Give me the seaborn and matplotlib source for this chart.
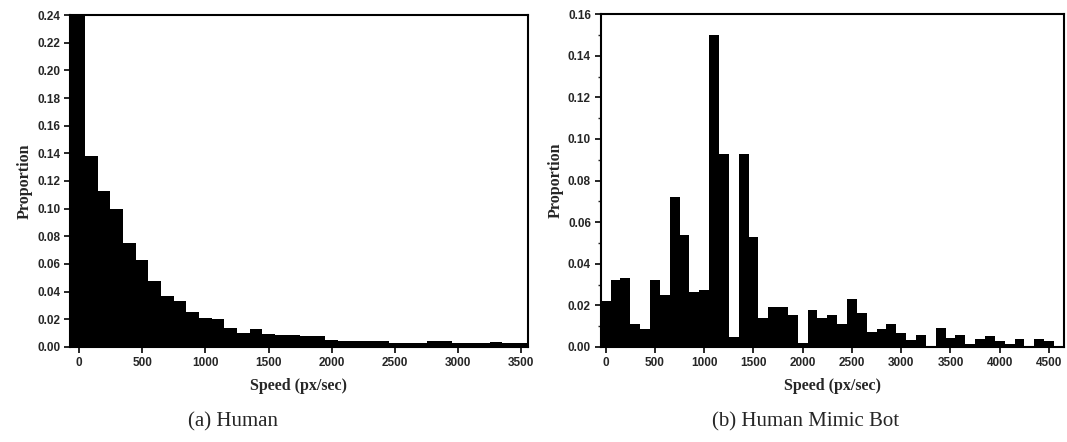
import pandas as pd
import matplotlib
matplotlib.use("Agg")
import matplotlib.pyplot as plt
from matplotlib.ticker import MultipleLocator
import seaborn as sns

# Speed histograms, bin width 100 px/sec, bins centred on multiples of 100

human_centers = list(range(0, 3600, 100))
human_props = [0.25, 0.138, 0.113, 0.100, 0.075, 0.063, 0.048, 0.037, 0.033, 0.025,
               0.021, 0.020, 0.0135, 0.010, 0.013, 0.0095, 0.0088, 0.009, 0.008, 0.008,
               0.0053, 0.004, 0.004, 0.004, 0.004, 0.003, 0.003, 0.003, 0.004, 0.004,
               0.003, 0.003, 0.003, 0.0037, 0.0027, 0.0027]

bot_centers = list(range(0, 4600, 100))
bot_props = [0.022, 0.032, 0.033, 0.011, 0.0088, 0.032, 0.025, 0.072, 0.054, 0.0265,
             0.0276, 0.150, 0.093, 0.0048, 0.093, 0.053, 0.014, 0.019, 0.019, 0.0156,
             0.0017, 0.0177, 0.0138, 0.0152, 0.0112, 0.0229, 0.0165, 0.0072, 0.0085, 0.0109,
             0.0066, 0.0032, 0.0056, 0.0005, 0.0093, 0.0045, 0.0056, 0.0016, 0.004, 0.0053,
             0.0029, 0.0016, 0.004, 0.0, 0.004, 0.0029]

sns.set_style("ticks")
plt.rcParams["font.family"] = ["Liberation Sans", "DejaVu Sans"]
plt.rcParams["font.weight"] = "bold"

fig = plt.figure(figsize=(10.67, 4.42), dpi=100)
ax1 = fig.add_axes([0.0656, 0.215, 0.429, 0.751])
ax2 = fig.add_axes([0.563, 0.215, 0.434, 0.753])

label_font = dict(family=["Liberation Serif", "DejaVu Serif"], weight="bold", size=11.5)


def draw_panel(ax, centers, props, xlim, ylim, xstep, ystep, minor_y=None):
    df = pd.DataFrame({"speed": centers, "prop": props})
    # first bin starts at the left edge of the axes
    edges = [min(xlim[0], c - 50) if i == 0 else c - 50 for i, c in enumerate(centers)]
    edges.append(centers[-1] + 50)
    sns.histplot(data=df, x="speed", weights="prop", bins=edges, ax=ax, color="black",
                 alpha=1, linewidth=0, stat="count")
    ax.set_xlim(xlim)
    ax.set_ylim(ylim)
    ax.xaxis.set_major_locator(MultipleLocator(xstep))
    ax.yaxis.set_major_locator(MultipleLocator(ystep))
    if minor_y:
        ax.yaxis.set_minor_locator(MultipleLocator(minor_y))
    ax.yaxis.set_major_formatter(plt.FuncFormatter(lambda v, p: f"{v:.2f}"))
    ax.tick_params(axis="both", which="major", direction="out", length=4, width=1.4,
                   labelsize=8.5, pad=3)
    ax.tick_params(axis="y", which="minor", direction="out", length=2.5, width=1)
    for sp in ax.spines.values():
        sp.set_visible(True)
        sp.set_linewidth(1.5)
        sp.set_color("black")
    ax.set_xlabel("Speed (px/sec)", fontdict=label_font, labelpad=7)
    ax.set_ylabel("Proportion", fontdict=label_font, labelpad=3)


draw_panel(ax1, human_centers, human_props, (-70, 3550), (0, 0.24), 500, 0.02)
draw_panel(ax2, bot_centers, bot_props, (-50, 4650), (0, 0.16), 500, 0.02, minor_y=0.01)

cap_font = dict(family=["Liberation Serif", "DejaVu Serif"], weight="normal", size=15)
fig.text(0.218, 0.045, "(a) Human", ha="center", va="center", **cap_font)
fig.text(0.755, 0.045, "(b) Human Mimic Bot", ha="center", va="center", **cap_font)

fig.savefig("out.png", dpi=100)
